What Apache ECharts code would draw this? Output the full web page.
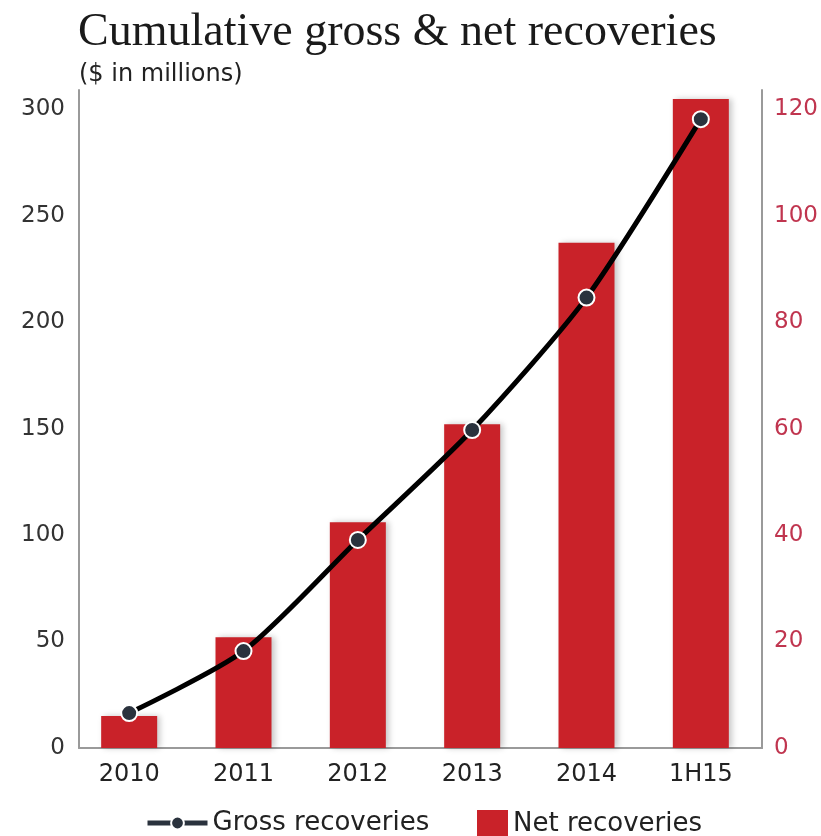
<!DOCTYPE html>
<html>
<head>
<meta charset="utf-8">
<script src="https://cdn.jsdelivr.net/npm/echarts@6/dist/echarts.min.js"></script>
<style>html,body{margin:0;padding:0;background:#fff}#c{width:821px;height:836px}</style>
</head>
<body>
<div id="c"></div>
<script>
var categories = ['2010', '2011', '2012', '2013', '2014', '1H15'];
var grossRecoveries = [16.4, 45.5, 97.7, 149.3, 211.5, 295.3];
var netRecoveries = [6.0, 20.8, 42.4, 60.8, 94.9, 121.9];
var leftTicks = [0, 50, 100, 150, 200, 250, 300];
var rightTicks = [0, 20, 40, 60, 80, 100, 120];

var sans = '"DejaVu Sans", sans-serif';
var LMAX = 309, RMAX = 123.6;
function fmt(list) { return function (v) { return list.indexOf(v) >= 0 ? String(v) : ''; }; }
var chart = echarts.init(document.getElementById('c'), null, {renderer: 'canvas'});
chart.setOption({
  animation: false,
  backgroundColor: '#ffffff',
  title: [
    {text: 'Cumulative gross & net recoveries', left: 73, top: 5,
     textStyle: {fontFamily: '"Liberation Serif", serif', fontWeight: 'normal', fontSize: 46, color: '#1a1a1a'}},
    {text: '($ in millions)', left: 74, top: 58,
     textStyle: {fontFamily: sans, fontWeight: 'normal', fontSize: 24, color: '#222'}}
  ],
  legend: [
    {data: ['Gross recoveries'], left: 145, top: 810, padding: 0, itemWidth: 60, itemHeight: 16, itemGap: 5,
     lineStyle: {width: 5, color: '#2a323d'},
     textStyle: {fontFamily: sans, fontSize: 26, color: '#222'}},
    {data: [{name: 'Net recoveries', icon: 'rect'}], left: 477, top: 810, padding: 0, itemWidth: 31, itemHeight: 28, itemGap: 5,
     textStyle: {fontFamily: sans, fontSize: 26, color: '#222'}}
  ],
  grid: [
    {left: 79, right: 56, top: 90, bottom: 88, containLabel: false},
    {left: 72, right: 63, top: 90, bottom: 88, containLabel: false}
  ],
  xAxis: [
    {type: 'category', gridIndex: 0, data: categories,
     axisLine: {show: true, lineStyle: {color: '#9a9a9a', width: 2}},
     axisTick: {show: false}, axisLabel: {show: false}},
    {type: 'category', gridIndex: 1, data: categories, boundaryGap: true,
     axisLine: {show: false}, axisTick: {show: false},
     axisLabel: {fontFamily: sans, fontSize: 24, color: '#222', margin: 15}}
  ],
  yAxis: [
    {type: 'value', gridIndex: 0, min: 0, max: LMAX, interval: 50, position: 'left',
     axisLine: {show: true, lineStyle: {color: '#9a9a9a', width: 2}},
     axisTick: {show: false}, splitLine: {show: false},
     axisLabel: {fontFamily: sans, fontSize: 23, color: '#333', margin: 14, showMaxLabel: false, formatter: fmt(leftTicks)}},
    {type: 'value', gridIndex: 0, min: 0, max: RMAX, interval: 20, position: 'right',
     axisLine: {show: true, lineStyle: {color: '#9a9a9a', width: 2}},
     axisTick: {show: false}, splitLine: {show: false},
     axisLabel: {fontFamily: sans, fontSize: 23, color: '#c0354f', margin: 12, showMaxLabel: false, formatter: fmt(rightTicks)}},
    {type: 'value', gridIndex: 1, min: 0, max: LMAX, interval: 50, position: 'left', show: false},
    {type: 'value', gridIndex: 1, min: 0, max: RMAX, interval: 20, position: 'right', show: false}
  ],
  series: [
    {name: 'Net recoveries', type: 'bar', xAxisIndex: 1, yAxisIndex: 3, data: netRecoveries, barWidth: 56,
     itemStyle: {color: '#c92229', shadowColor: 'rgba(0,0,0,0.22)', shadowBlur: 6, shadowOffsetX: 3}},
    {name: 'Gross recoveries', type: 'line', xAxisIndex: 1, yAxisIndex: 2, data: grossRecoveries, smooth: 0.25,
     symbol: 'circle', symbolSize: 16,
     lineStyle: {color: '#000', width: 5},
     itemStyle: {color: '#2a323d', borderColor: '#ffffff', borderWidth: 2}}
  ]
});
</script>
</body>
</html>
